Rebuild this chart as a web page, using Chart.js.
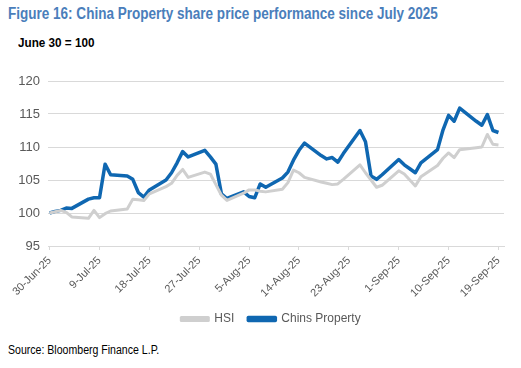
<!DOCTYPE html>
<html>
<head>
<meta charset="utf-8">
<script src="https://cdn.jsdelivr.net/npm/chart.js@4.4.1/dist/chart.umd.min.js"></script>
<style>
  html, body { margin: 0; padding: 0; background: #ffffff; }
  body { width: 521px; height: 368px; position: relative; overflow: hidden;
         font-family: "Liberation Sans", Arial, sans-serif; }
  .t { position: absolute; white-space: nowrap; transform-origin: 0 0; }
  #title { left: 8px; top: 5px; font-size: 16px; font-weight: bold; color: #4a7ebb; transform: scaleX(0.845); }
  #subtitle { left: 18px; top: 35px; font-size: 13px; font-weight: bold; color: #000; transform: scaleX(0.9); }
  #source { left: 8px; top: 343px; font-size: 12px; color: #000; transform: scaleX(0.88); }
  #wrap { position: absolute; left: 0; top: 60px; width: 521px; height: 275px; }
</style>
</head>
<body>
<div id="title" class="t">Figure 16: China Property share price performance since July 2025</div>
<div id="subtitle" class="t">June 30 = 100</div>
<div id="wrap"><canvas id="c"></canvas></div>
<div id="source" class="t">Source: Bloomberg Finance L.P.</div>
<script>
// Trading days (weekdays) plotted on a calendar-day axis
const dates = [
  '2025-06-30','2025-07-01','2025-07-02','2025-07-03','2025-07-04',
  '2025-07-07','2025-07-08','2025-07-09','2025-07-10','2025-07-11',
  '2025-07-14','2025-07-15','2025-07-16','2025-07-17','2025-07-18',
  '2025-07-21','2025-07-22','2025-07-23','2025-07-24','2025-07-25',
  '2025-07-28','2025-07-29','2025-07-30','2025-07-31','2025-08-01',
  '2025-08-04','2025-08-05','2025-08-06','2025-08-07','2025-08-08',
  '2025-08-11','2025-08-12','2025-08-13','2025-08-14','2025-08-15',
  '2025-08-18','2025-08-19','2025-08-20','2025-08-21','2025-08-22',
  '2025-08-25','2025-08-26','2025-08-27','2025-08-28','2025-08-29',
  '2025-09-01','2025-09-02','2025-09-03','2025-09-04','2025-09-05',
  '2025-09-08','2025-09-09','2025-09-10','2025-09-11','2025-09-12',
  '2025-09-15','2025-09-16','2025-09-17','2025-09-18','2025-09-19'
];
const hsi = [
  100.0, 100.2, 100.4, 100.1, 99.4,
  99.2, 100.4, 99.3, 99.9, 100.3,
  100.6, 102.1, 102.0, 101.9, 102.9,
  104.0, 104.5, 105.7, 106.6, 105.4,
  106.2, 105.9, 104.3, 102.7, 101.9,
  103.0, 103.5, 103.5, 103.3, 103.2,
  103.6, 104.6, 106.5, 106.1, 105.4,
  104.7, 104.5, 104.3, 104.4, 105.1,
  107.3, 106.1, 105.0, 103.9, 104.2,
  106.4, 105.9, 105.0, 104.1, 105.5,
  107.2, 108.3, 109.1, 108.4, 109.6,
  109.9, 110.0, 111.9, 110.4, 110.3
];
const chinaProperty = [
  100.0, 100.25, 100.4, 100.75, 100.7,
  102.1, 102.3, 102.3, 107.4, 105.8,
  105.6, 105.1, 103.1, 102.4, 103.5,
  105.0, 106.1, 107.6, 109.3, 108.5,
  109.5, 108.5, 107.4, 102.9, 102.2,
  103.2, 102.5, 102.3, 104.4, 103.9,
  105.3, 106.2, 108.0, 109.5, 110.6,
  108.7, 108.2, 108.4, 107.7, 109.0,
  112.5, 110.8, 105.6, 105.1, 105.8,
  108.1, 107.3, 106.7, 106.1, 107.6,
  109.6, 112.6, 114.8, 113.9, 115.9,
  113.9, 113.3, 114.9, 112.5, 112.2
];
const seriesNames = ['HSI', 'Chins Property'];
const tickLabels = ['30-Jun-25','9-Jul-25','18-Jul-25','27-Jul-25','5-Aug-25','14-Aug-25','23-Aug-25','1-Sep-25','10-Sep-25','19-Sep-25'];
const tickDays = [0, 9, 18, 27, 36, 45, 54, 63, 72, 81];

const base = Date.UTC(2025, 5, 30);
const dayOf = s => { const [y, m, d] = s.split('-').map(Number); return Math.round((Date.UTC(y, m - 1, d) - base) / 86400000); };
const toPts = arr => arr.map((v, i) => ({ x: dayOf(dates[i]), y: v }));

const FONT = '"Liberation Sans", Arial, sans-serif';
const GRID = '#d9d9d9';
const TXT = '#595959';

// shift the legend so that it is centred where the reference has it
const legendShift = {
  id: 'legendShift',
  afterLayout(chart) {
    const l = chart.legend;
    if (l) { l.left += 19; l.right += 19; }
  }
};

new Chart(document.getElementById('c'), {
  type: 'line',
  data: {
    datasets: [
      { label: seriesNames[0], data: toPts(hsi), borderColor: '#cfcfcf', backgroundColor: '#cfcfcf',
        borderWidth: 3, pointRadius: 0, tension: 0, borderJoinStyle: 'round' },
      { label: seriesNames[1], data: toPts(chinaProperty), borderColor: '#0f67b1', backgroundColor: '#0f67b1',
        borderWidth: 3.5, pointRadius: 0, tension: 0, borderJoinStyle: 'round' }
    ]
  },
  plugins: [legendShift],
  options: {
    responsive: true,
    maintainAspectRatio: false,
    animation: false,
    events: [],
    layout: { padding: { top: 21, right: 17, left: 0, bottom: 0 } },
    plugins: {
      legend: {
        position: 'bottom',
        labels: { boxWidth: 27, boxHeight: 3, padding: 14, color: TXT, font: { family: FONT, size: 12 } }
      },
      tooltip: { enabled: false }
    },
    scales: {
      x: {
        type: 'linear', min: -0.3, max: 82,
        afterBuildTicks: s => { s.ticks = tickDays.map(v => ({ value: v })); },
        afterFit: s => { s.height = 53; },
        ticks: {
          autoSkip: false, minRotation: 45, maxRotation: 45, color: TXT, padding: 4,
          font: { family: FONT, size: 11 },
          callback: v => tickLabels[tickDays.indexOf(v)]
        },
        grid: { drawOnChartArea: false, drawTicks: true, tickLength: 4, color: GRID },
        border: { display: true, color: GRID, width: 1 }
      },
      y: {
        min: 95, max: 120,
        afterFit: s => { s.width = 48; },
        ticks: { stepSize: 5, color: TXT, padding: 8, font: { family: FONT, size: 13 } },
        grid: { color: GRID, lineWidth: 1, drawTicks: false },
        border: { display: false }
      }
    }
  }
});
</script>
</body>
</html>
